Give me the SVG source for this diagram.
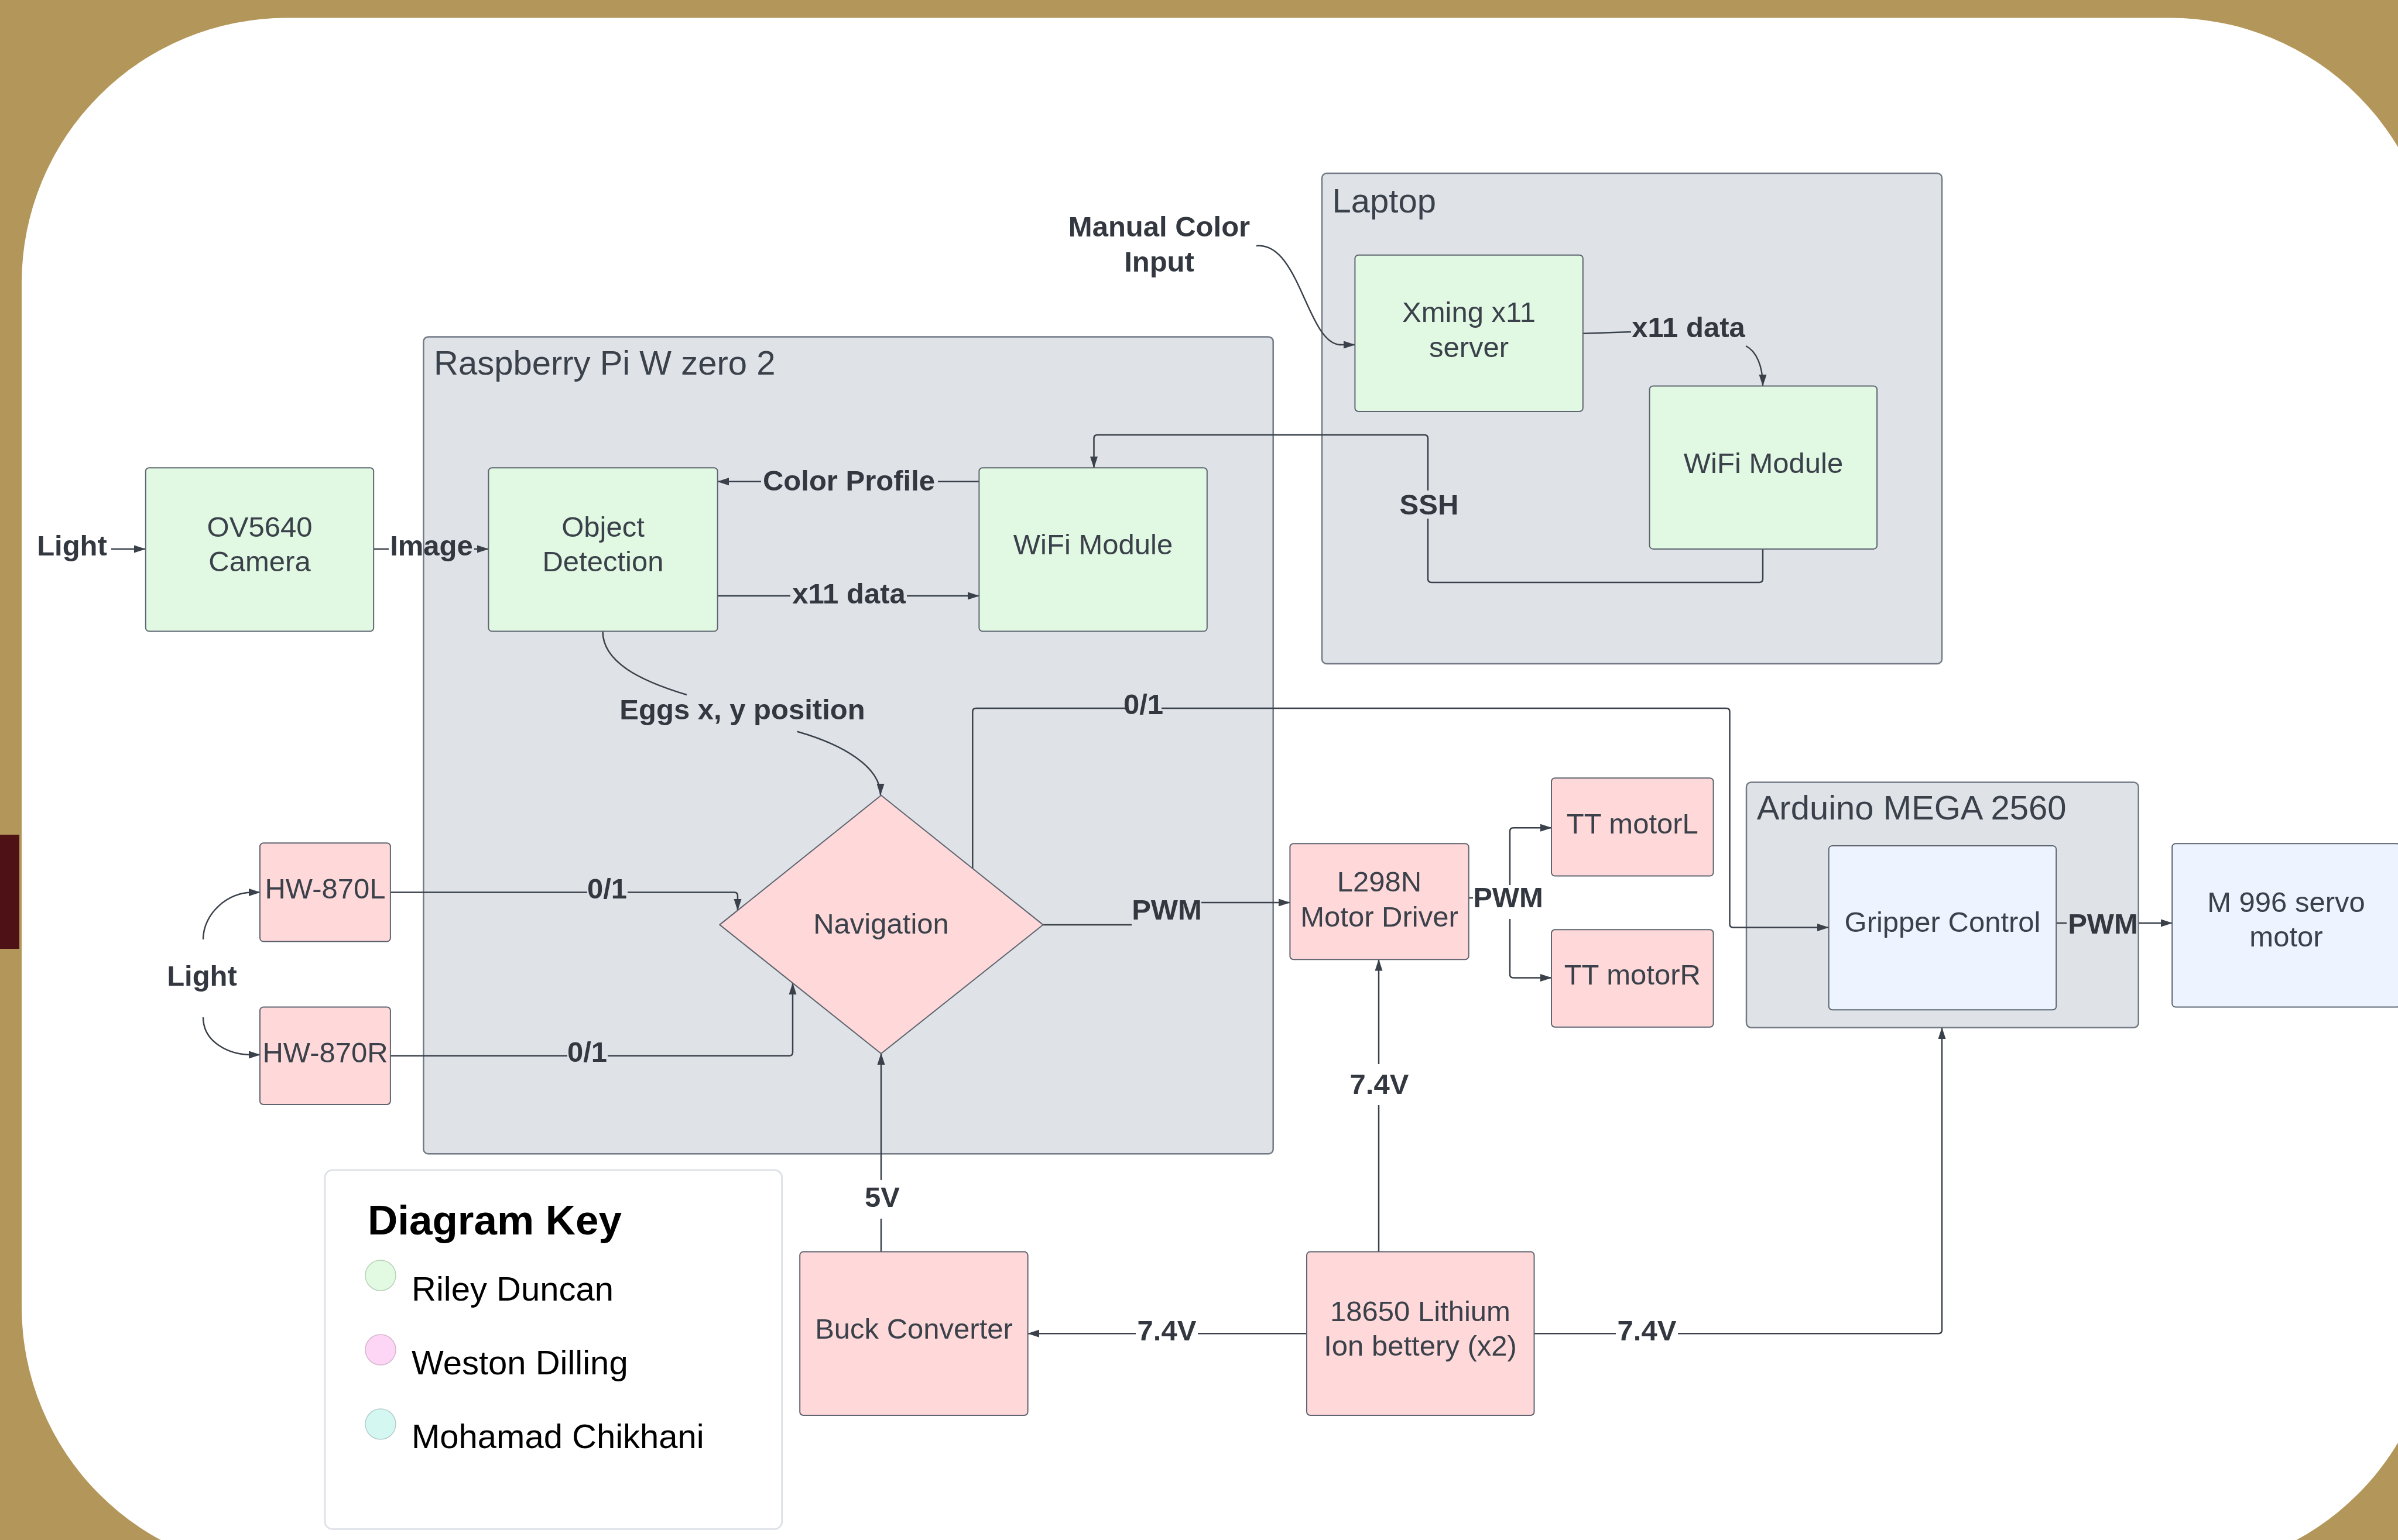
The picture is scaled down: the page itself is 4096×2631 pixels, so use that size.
<svg xmlns="http://www.w3.org/2000/svg" width="4096" height="2631" viewBox="0 0 4096 2631">
<defs>
<marker id="arr" markerUnits="userSpaceOnUse" markerWidth="20" markerHeight="16" viewBox="0 0 20 16" refX="19" refY="8" orient="auto"><path d="M0,1.5 L20,8 L0,14.5 z" fill="#3A414A"/></marker>
<style>
.cont{fill:#DFE3E8;stroke:#737A85;stroke-width:2.5}
.g{fill:#E1F8E2;stroke:#5E6570;stroke-width:2}
.p{fill:#FFD9DA;stroke:#5E6570;stroke-width:2}
.b{fill:#EDF4FF;stroke:#5E6570;stroke-width:2}
.t{font-family:'Liberation Sans',Arial,sans-serif;font-size:49px;fill:#3A414A;text-anchor:middle}
.ct{font-family:'Liberation Sans',Arial,sans-serif;font-size:58px;fill:#3A414A}
.l{font-family:'Liberation Sans',Arial,sans-serif;font-size:49px;font-weight:bold;fill:#333840;text-anchor:middle}
.c{fill:none;stroke:#3A414A;stroke-width:2.5;stroke-linejoin:round}
.a{marker-end:url(#arr)}
.k{font-family:'Liberation Sans',Arial,sans-serif;font-size:58px;fill:#000}
</style>
</defs>
<rect x="0" y="0" width="4096" height="2631" fill="#B39659"/>
<rect x="37" y="30.5" width="4123" height="2655" rx="453" ry="453" fill="#FFFFFF"/>
<rect x="0" y="1426" width="33" height="195" fill="#4E1116"/>

<g id="raspberry-pi">
<rect class="cont" x="723.4" y="575.4" width="1451.3" height="1395.8" rx="8"/>
<text class="ct" x="741" y="640">Raspberry Pi W zero 2</text>
</g>
<g id="laptop">
<rect class="cont" x="2258" y="296" width="1059" height="838" rx="8"/>
<text class="ct" x="2275.5" y="362.6">Laptop</text>
</g>
<g id="arduino">
<rect class="cont" x="2983" y="1336.6" width="669.7" height="419" rx="8"/>
<text class="ct" x="3000.7" y="1399.5">Arduino MEGA 2560</text>
</g>

<g id="connectors">
<path class="c a" d="M190 938 H248"/>
<text class="l" x="123" y="949">Light</text>
<path class="c" d="M638.3 938 H664"/>
<path class="c a" d="M810 938 H834"/>
<text class="l" x="737" y="949">Image</text>
<path class="c" d="M1672.4 822.8 H1602"/>
<path class="c a" d="M1300 822.8 H1226"/>
<text class="l" x="1450" y="838">Color Profile</text>
<path class="c" d="M1225.6 1018 H1350"/>
<path class="c a" d="M1549 1018 H1672"/>
<text class="l" x="1450" y="1031">x11 data</text>
<path class="c" d="M1029.5 1078.6 C1029.5 1130 1090 1162 1173 1187"/>
<path class="c a" d="M1361.6 1249.7 C1440 1272 1504 1310 1504 1358"/>
<text class="l" x="1268" y="1229">Eggs x, y position</text>
<path class="c" d="M2146 420 C2220 412 2233 589 2290 589"/>
<path class="c a" d="M2288 589 H2314"/>
<text class="l" x="1980" y="404">Manual Color</text>
<text class="l" x="1980" y="464">Input</text>
<path class="c" d="M2703.8 569.8 L2786 567"/>
<text class="l" x="2884" y="576">x11 data</text>
<path class="c a" d="M2982 591 C3000 600 3011 625 3011 659"/>
<path class="c" d="M3011 938 V989 Q3011 995 3005 995 H2445 Q2439 995 2439 989 V886"/>
<path class="c a" d="M2439 838 V749 Q2439 743 2433 743 H1874.5 Q1868.5 743 1868.5 749 V799"/>
<text class="l" x="2441" y="879">SSH</text>
<path class="c" d="M347 1605 C347 1560 390 1524.4 430 1524.4"/>
<path class="c a" d="M428 1524.4 H444"/>
<path class="c" d="M347 1738 C347 1780 390 1802 430 1802"/>
<path class="c a" d="M428 1802 H444"/>
<text class="l" x="345" y="1684">Light</text>
<path class="c" d="M666.9 1524.4 H1003"/>
<path class="c a" d="M1072 1524.4 H1254 Q1260 1524.4 1260 1530.4 V1555"/>
<text class="l" x="1037" y="1535">0/1</text>
<path class="c" d="M666.9 1803.8 H969"/>
<path class="c a" d="M1038 1803.8 H1348 Q1354 1803.8 1354 1797.8 V1680"/>
<text class="l" x="1003" y="1814">0/1</text>
<path class="c" d="M1661.3 1484 V1216 Q1661.3 1210 1667.3 1210 H1922"/>
<path class="c a" d="M1984 1210 H2948.5 Q2954.5 1210 2954.5 1216 V1578.5 Q2954.5 1584.5 2960.5 1584.5 H3123"/>
<text class="l" x="1953" y="1220">0/1</text>
<path class="c" d="M1781.6 1580 H1933"/>
<path class="c a" d="M2052 1542 H2203"/>
<text class="l" x="1993" y="1571">PWM</text>
<path class="c" d="M2508.6 1534 H2516"/>
<path class="c a" d="M2579 1512 V1420.3 Q2579 1414.3 2585 1414.3 H2650"/>
<path class="c a" d="M2579 1570 V1664.6 Q2579 1670.6 2585 1670.6 H2650"/>
<text class="l" x="2576" y="1550">PWM</text>
<path class="c" d="M3512 1577 H3530"/>
<path class="c a" d="M3653 1577 H3710"/>
<text class="l" x="3592" y="1595">PWM</text>
<path class="c" d="M1505 2138.6 V2082"/>
<path class="c a" d="M1505 2016 V1800"/>
<text class="l" x="1507" y="2062">5V</text>
<path class="c" d="M2355 2138.6 V1888"/>
<path class="c a" d="M2355 1818 V1639.5"/>
<text class="l" x="2356" y="1869">7.4V</text>
<path class="c" d="M2232 2278.3 H2046"/>
<path class="c a" d="M1940 2278.3 H1756"/>
<text class="l" x="1993" y="2290">7.4V</text>
<path class="c" d="M2620.5 2278.3 H2760"/>
<path class="c a" d="M2866 2278.3 H3311 Q3317 2278.3 3317 2272.3 V1756"/>
<text class="l" x="2813" y="2290">7.4V</text>
</g>

<g id="ov5640-camera">
<rect class="g" x="248.8" y="799.2" width="389.4" height="279.4" rx="6"/>
<text class="t" x="443.5" y="917">OV5640</text>
<text class="t" x="443.5" y="976">Camera</text>
</g>
<g id="object-detection">
<rect class="g" x="834.4" y="799.2" width="391.3" height="279.4" rx="6"/>
<text class="t" x="1030" y="917">Object</text>
<text class="t" x="1030" y="976">Detection</text>
</g>
<g id="pi-wifi-module">
<rect class="g" x="1672.4" y="799.2" width="389.4" height="279.4" rx="6"/>
<text class="t" x="1867" y="947">WiFi Module</text>
</g>
<g id="xming-server">
<rect class="g" x="2314.4" y="435.7" width="389.4" height="267.3" rx="6"/>
<text class="t" x="2509" y="550">Xming x11</text>
<text class="t" x="2509" y="610">server</text>
</g>
<g id="laptop-wifi-module">
<rect class="g" x="2817.6" y="659.5" width="388.5" height="278.4" rx="6"/>
<text class="t" x="3012" y="808">WiFi Module</text>
</g>
<g id="navigation">
<polygon class="p" points="1505,1358.8 1781.6,1579.9 1505,1800 1229.3,1579.9" stroke-linejoin="round"/>
<text class="t" x="1505" y="1595">Navigation</text>
</g>
<g id="hw-870l">
<rect class="p" x="444" y="1440.2" width="222.9" height="168.4" rx="6"/>
<text class="t" x="555.5" y="1535">HW-870L</text>
</g>
<g id="hw-870r">
<rect class="p" x="444" y="1720.5" width="222.9" height="166.5" rx="6"/>
<text class="t" x="555.5" y="1815">HW-870R</text>
</g>
<g id="l298n">
<rect class="p" x="2203.4" y="1441.2" width="305.3" height="198" rx="6"/>
<text class="t" x="2356" y="1523">L298N</text>
<text class="t" x="2356" y="1583">Motor Driver</text>
</g>
<g id="tt-motor-l">
<rect class="p" x="2650" y="1329.2" width="276.6" height="167.4" rx="6"/>
<text class="t" x="2788.3" y="1424">TT motorL</text>
</g>
<g id="tt-motor-r">
<rect class="p" x="2650" y="1588.2" width="276.6" height="166.5" rx="6"/>
<text class="t" x="2788.3" y="1682">TT motorR</text>
</g>
<g id="gripper-control">
<rect class="b" x="3123.7" y="1444.9" width="388.5" height="280.3" rx="6"/>
<text class="t" x="3318" y="1592">Gripper Control</text>
</g>
<g id="servo-motor">
<rect class="b" x="3710.2" y="1441.2" width="389.4" height="279.4" rx="6"/>
<text class="t" x="3905" y="1558">M 996 servo</text>
<text class="t" x="3905" y="1617">motor</text>
</g>
<g id="buck-converter">
<rect class="p" x="1366.2" y="2138.6" width="389.4" height="279.4" rx="6"/>
<text class="t" x="1561" y="2287">Buck Converter</text>
</g>
<g id="battery">
<rect class="p" x="2232" y="2138.6" width="388.5" height="279.4" rx="6"/>
<text class="t" x="2426" y="2257">18650 Lithium</text>
<text class="t" x="2426" y="2316">Ion bettery (x2)</text>
</g>
<g id="diagram-key">
<rect x="555" y="1999" width="780.7" height="613.3" rx="13" fill="#FFFFFF" stroke="#DEE2E7" stroke-width="3"/>
<text x="628" y="2109" font-family="'Liberation Sans',Arial,sans-serif" font-size="71" font-weight="bold" fill="#000">Diagram Key</text>
<circle cx="650" cy="2179" r="26" fill="#E2F9E2" stroke="#B9D2B9" stroke-width="1.5"/>
<text class="k" x="703" y="2222">Riley Duncan</text>
<circle cx="650" cy="2306" r="26" fill="#FDD5F5" stroke="#D6B6D0" stroke-width="1.5"/>
<text class="k" x="703" y="2348">Weston Dilling</text>
<circle cx="650" cy="2433" r="26" fill="#D5F7F1" stroke="#B4CFCB" stroke-width="1.5"/>
<text class="k" x="703" y="2474">Mohamad Chikhani</text>
</g>
</svg>
